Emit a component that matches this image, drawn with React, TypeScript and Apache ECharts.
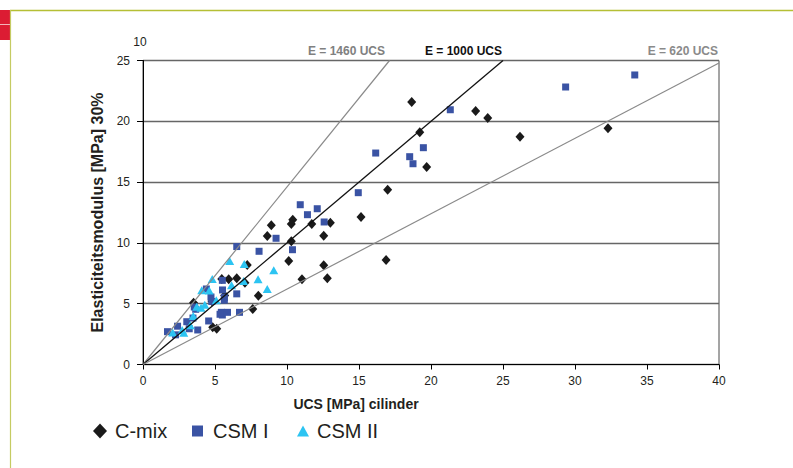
import React, { useEffect, useRef } from 'react';
import * as echarts from 'echarts';

const FONT = 'Liberation Sans, Arial, sans-serif';

// C-mix [UCS, E]
const cMix: [number, number][] = [
  [18.66, 21.59], [23.1, 20.85], [23.94, 20.27], [19.22, 19.1], [26.18, 18.73],
  [32.29, 19.42], [19.7, 16.24], [16.99, 14.38], [16.88, 8.59], [15.14, 12.13],
  [10.4, 11.91], [10.3, 11.55], [8.91, 11.45], [11.72, 11.55], [13.01, 11.66],
  [8.63, 10.57], [12.55, 10.59], [10.3, 10.13], [10.12, 8.51], [12.55, 8.16],
  [11.04, 7.01], [12.8, 7.09], [8.01, 5.66], [7.62, 4.56], [7.24, 8.18],
  [5.47, 7.03], [5.95, 7.01], [6.51, 7.09], [7.08, 6.73], [5.67, 5.67],
  [4.79, 5.2], [3.51, 5.07], [4.84, 3.06], [5.12, 2.94],
];

// CSM I
const csm1: [number, number][] = [
  [21.34, 20.95], [29.35, 22.82], [34.15, 23.81], [16.16, 17.39], [18.52, 17.09],
  [18.75, 16.51], [19.47, 17.83], [14.95, 14.13], [10.92, 13.14], [12.1, 12.81],
  [11.42, 12.32], [12.58, 11.72], [9.24, 10.38], [10.38, 9.44], [8.06, 9.31],
  [6.51, 9.7], [5.51, 6.92], [5.52, 6.13], [4.4, 6.21], [6.51, 5.81],
  [4.72, 5.55], [4.78, 5.18], [5.65, 5.51], [5.65, 5.29], [3.56, 4.73],
  [3.66, 4.54], [3.47, 3.82], [6.7, 4.29], [5.87, 4.29], [5.44, 4.29],
  [5.51, 4.07], [5.35, 4.13], [4.56, 3.58], [3.04, 3.52], [3.21, 2.94],
  [3.8, 2.84], [2.4, 3.15], [1.7, 2.7], [2.26, 2.44],
];

// CSM II
const csm2: [number, number][] = [
  [6.02, 8.51], [7.03, 8.26], [9.08, 7.75], [4.81, 7.03], [7.99, 7.01],
  [6.99, 6.87], [8.63, 6.21], [6.15, 6.51], [4.08, 6.1], [4.6, 6.09],
  [5.09, 5.28], [3.73, 4.75], [4.03, 4.67], [4.29, 4.92], [3.49, 3.99],
  [3.28, 3.23], [2.72, 2.84], [2.83, 2.62], [2.06, 2.63],
];

// Reference lines E = k * UCS (start and end points)
const line1460: [number, number][] = [[0, 0], [17.12, 25]];
const line1000: [number, number][] = [[0, 0], [25, 25]];
const line620: [number, number][] = [[0, 0], [40, 24.8]];

const lineLabels = ['E = 1460 UCS', 'E = 1000 UCS', 'E = 620 UCS'];

export default function App() {
  const ref = useRef<HTMLDivElement>(null);
  useEffect(() => {
    const chart = echarts.init(ref.current!, null, { renderer: 'svg' });
    const legendBase = {
      top: 421,
      padding: 0,
      selectedMode: false,
      orient: 'horizontal',
    };
    chart.setOption({
      animation: false,
      backgroundColor: '#ffffff',
      textStyle: { fontFamily: FONT },
      grid: {
        left: 143, top: 60.5, width: 576, height: 304,
        show: true, borderColor: '#4a4a4a', borderWidth: 1,
      },
      xAxis: {
        type: 'value', min: 0, max: 40, interval: 5,
        name: 'UCS [MPa] cilinder', nameLocation: 'middle', nameGap: 32,
        nameTextStyle: { fontSize: 14, fontWeight: 'bold', color: '#231f20', fontFamily: FONT, padding: [0, 150, 0, 0] },
        axisLine: { lineStyle: { color: '#000', width: 1 } },
        axisTick: { show: true, length: 5, lineStyle: { color: '#000' } },
        axisLabel: { fontSize: 12, color: '#231f20', margin: 10, fontFamily: FONT },
        splitLine: { show: false },
      },
      yAxis: {
        type: 'value', min: 0, max: 25, interval: 5,
        name: 'Elasticiteitsmodulus [MPa] 30%', nameLocation: 'middle', nameGap: 33,
        nameTextStyle: { fontSize: 16, fontWeight: 'bold', color: '#231f20', fontFamily: FONT },
        axisLine: { show: true, lineStyle: { color: '#000', width: 1 } },
        axisTick: { show: true, length: 6, lineStyle: { color: '#000' } },
        axisLabel: { fontSize: 12, color: '#231f20', margin: 13, fontFamily: FONT },
        splitLine: { show: true, lineStyle: { color: '#666', width: 1.3 } },
      },
      legend: [
        { ...legendBase, left: 93, itemWidth: 14, itemHeight: 15, data: ['C-mix'],
          textStyle: { fontSize: 20, color: '#231f20', fontFamily: FONT, padding: [0, 0, 0, 3] } },
        { ...legendBase, left: 192, itemWidth: 11, itemHeight: 11, data: ['CSM I'],
          textStyle: { fontSize: 20, color: '#231f20', fontFamily: FONT, padding: [0, 0, 0, 5] } },
        { ...legendBase, left: 297, itemWidth: 12, itemHeight: 11, data: ['CSM II'],
          textStyle: { fontSize: 20, color: '#231f20', fontFamily: FONT, padding: [0, 0, 0, 3] } },
      ],
      series: [
        { type: 'line', name: 'E1460', data: line1460, symbol: 'none', silent: true,
          lineStyle: { color: '#8a8a8a', width: 1.2 } },
        { type: 'line', name: 'E1000', data: line1000, symbol: 'none', silent: true,
          lineStyle: { color: '#111', width: 1.3 } },
        { type: 'line', name: 'E620', data: line620, symbol: 'none', silent: true,
          lineStyle: { color: '#8a8a8a', width: 1.2 } },
        { type: 'scatter', name: 'C-mix', data: cMix, symbol: 'diamond', symbolSize: [9, 10],
          itemStyle: { color: '#1a1a1a', opacity: 1 } },
        { type: 'scatter', name: 'CSM I', data: csm1, symbol: 'rect', symbolSize: 7,
          itemStyle: { color: '#3a53a4', opacity: 1 } },
        { type: 'scatter', name: 'CSM II', data: csm2, symbol: 'triangle', symbolSize: [9, 8],
          itemStyle: { color: '#2cc4f2', opacity: 1 } },
      ],
      graphic: [
        { type: 'rect', shape: { x: 0, y: 10, width: 10, height: 30 }, style: { fill: '#dc1c33' }, silent: true },
        { type: 'rect', shape: { x: 0, y: 24, width: 10, height: 1 }, style: { fill: '#f3b3ba' }, silent: true },
        { type: 'line', shape: { x1: 10, y1: 10.5, x2: 793, y2: 10.5 }, style: { stroke: '#b5bf35', lineWidth: 1.3 }, silent: true },
        { type: 'line', shape: { x1: 10.5, y1: 10, x2: 10.5, y2: 468 }, style: { stroke: '#c5cb62', lineWidth: 1.2 }, silent: true },
        { type: 'text', x: 140, y: 42, style: { text: '10', fill: '#231f20', font: `12px ${FONT}`, align: 'center', verticalAlign: 'middle' } },
        { type: 'text', x: 385, y: 51, style: { text: lineLabels[0], fill: '#808080', font: `bold 12px ${FONT}`, align: 'right', verticalAlign: 'middle' } },
        { type: 'text', x: 502, y: 51, style: { text: lineLabels[1], fill: '#111', font: `bold 12px ${FONT}`, align: 'right', verticalAlign: 'middle' } },
        { type: 'text', x: 718, y: 51, style: { text: lineLabels[2], fill: '#8a8a8a', font: `bold 12px ${FONT}`, align: 'right', verticalAlign: 'middle' } },
      ],
    });
    return () => chart.dispose();
  }, []);
  return (
    <div
      ref={ref}
      style={{ position: 'fixed', left: 0, top: 0, width: 793, height: 468, background: '#fff' }}
    />
  );
}
